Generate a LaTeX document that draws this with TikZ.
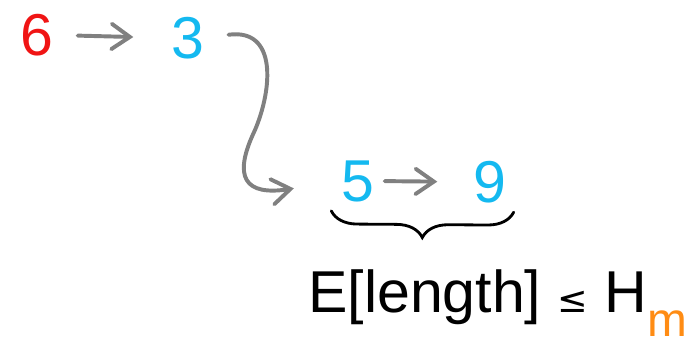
\documentclass[tikz,border=0pt]{standalone}
\usepackage{fontspec}
\setmainfont{Liberation Sans}
\newfontfamily\symfont{DejaVu Sans}
\usepackage{xcolor}
\usetikzlibrary{positioning, arrows.meta, decorations.pathreplacing, calc}
\definecolor{numRed}{RGB}{240, 20, 20}
\definecolor{numBlue}{RGB}{20, 185, 240}
\definecolor{arrGray}{RGB}{128, 128, 128}
\definecolor{subOrange}{RGB}{255, 140, 20}

\begin{document}
\begin{tikzpicture}[
    x=0.025cm, y=-0.025cm,
    font=\fontsize{42}{50}\selectfont,
    num/.style={inner sep=0pt},
    arr/.style={-{Straight Barb[length=13pt, width=18pt, line cap=round]}, line width=2.8pt,
        arrGray, line cap=round},
    brc/.style={decorate, decoration={brace, mirror, amplitude=0.65cm}, line width=2pt,
        line cap=round}
]
\useasboundingbox (0,0) rectangle (696,350);

\node[num, text=numRed]  (n6) at (37,35)  {6};
\node[num, text=numBlue] (n3) at (188,38) {3};
\node[num, text=numBlue] (n5) at (358,181) {5};
\node[num, text=numBlue] (n9) at (490,182) {9};

\node[inner sep=0pt, anchor=base west] (bound) at (308,312)
    {E[length] {\symfont\fontsize{26}{30}\selectfont ≤} H\raisebox{-0.42em}{\fontsize{34}{40}\selectfont\color{subOrange}m}};

\draw[arr, shorten <=0.6cm, shorten >=0.95cm] (n6.east) -- (n3.west);
\draw[arr, shorten <=0.25cm, shorten >=0.9cm] (n5.east) -- (n9.west);
\draw[arr, shorten <=0.6cm, shorten >=1.2cm] (n3.east) .. controls (278,28) and (272,90) .. (255,130)
    .. controls (232,178) and (245,196) .. (n5.west);

\draw[brc] ($(n5.south west)+(-10,9)$) -- ($(n9.south east)+(7,9)$);
\end{tikzpicture}
\end{document}
